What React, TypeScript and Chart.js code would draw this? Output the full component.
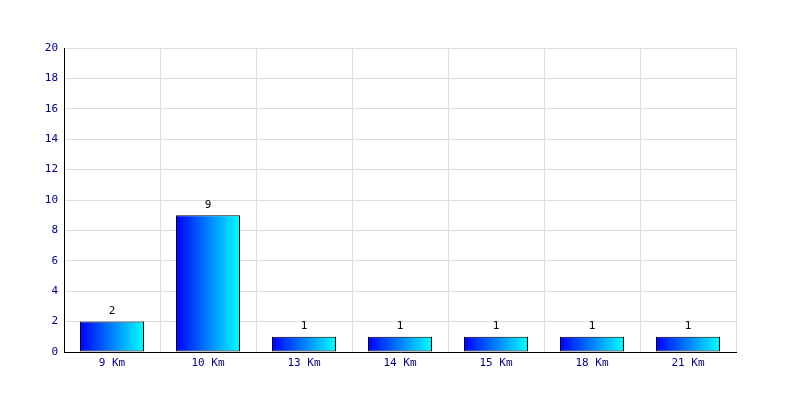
import React, { useEffect, useRef } from "react";
import { Chart, registerables } from "chart.js";

Chart.register(...registerables);

const categories = ["9 Km", "10 Km", "13 Km", "14 Km", "15 Km", "18 Km", "21 Km"];
const counts = [2, 9, 1, 1, 1, 1, 1];
const yMin = 0;
const yMax = 20;
const yStep = 2;

const FONT = "'DejaVu Sans Mono', monospace";
const BAR_PCT = 2 / 3;

const valueLabels = {
  id: "valueLabels",
  afterDatasetsDraw(chart: any) {
    const ctx = chart.ctx;
    const meta = chart.getDatasetMeta(0);
    ctx.save();
    ctx.fillStyle = "#000000";
    ctx.font = `11px ${FONT}`;
    ctx.textAlign = "center";
    ctx.textBaseline = "bottom";
    meta.data.forEach((bar: any, i: number) => {
      ctx.fillText(String(counts[i]), bar.x, bar.y - 5);
    });
    ctx.restore();
  },
};

export default function App() {
  const ref = useRef<HTMLCanvasElement>(null);

  useEffect(() => {
    const canvas = ref.current;
    if (!canvas) return;
    const chart = new Chart(canvas, {
      type: "bar",
      data: {
        labels: categories,
        datasets: [
          {
            data: counts,
            barPercentage: BAR_PCT,
            categoryPercentage: 1,
            borderColor: "#000000",
            borderWidth: 1,
            borderSkipped: false,
            backgroundColor: (c: any) => {
              const ch = c.chart;
              const area = ch.chartArea;
              const xs = ch.scales?.x;
              if (!area || !xs || c.dataIndex === undefined) return "#0000ff";
              const cx = xs.getPixelForValue(c.dataIndex);
              const half = ((area.right - area.left) / categories.length) * BAR_PCT / 2;
              const g = ch.ctx.createLinearGradient(cx - half, 0, cx + half, 0);
              g.addColorStop(0, "#0000ff");
              g.addColorStop(1, "#00ffff");
              return g;
            },
          },
        ],
      },
      options: {
        responsive: false,
        animation: false,
        layout: { padding: { top: 48, right: 64, left: 0, bottom: 0 } },
        plugins: { legend: { display: false }, tooltip: { enabled: false } },
        scales: {
          x: {
            offset: true,
            grid: { color: "#dddddd", offset: true, drawTicks: false },
            border: { color: "#000000", width: 1 },
            ticks: { color: "#000080", font: { family: FONT, size: 11 }, padding: 5, maxRotation: 0 },
            afterFit: (s: any) => { s.height = 48; },
          },
          y: {
            min: yMin,
            max: yMax,
            grid: { color: "#dddddd", drawTicks: false },
            border: { color: "#000000", width: 1 },
            ticks: { stepSize: yStep, color: "#000080", font: { family: FONT, size: 11 }, padding: 6 },
            afterFit: (s: any) => { s.width = 64; },
          },
        },
      },
      plugins: [valueLabels],
    });
    return () => chart.destroy();
  }, []);

  return (
    <div style={{ position: "absolute", left: 0, top: 0, width: 800, height: 400, background: "#ffffff" }}>
      <canvas ref={ref} width={800} height={400} />
    </div>
  );
}
